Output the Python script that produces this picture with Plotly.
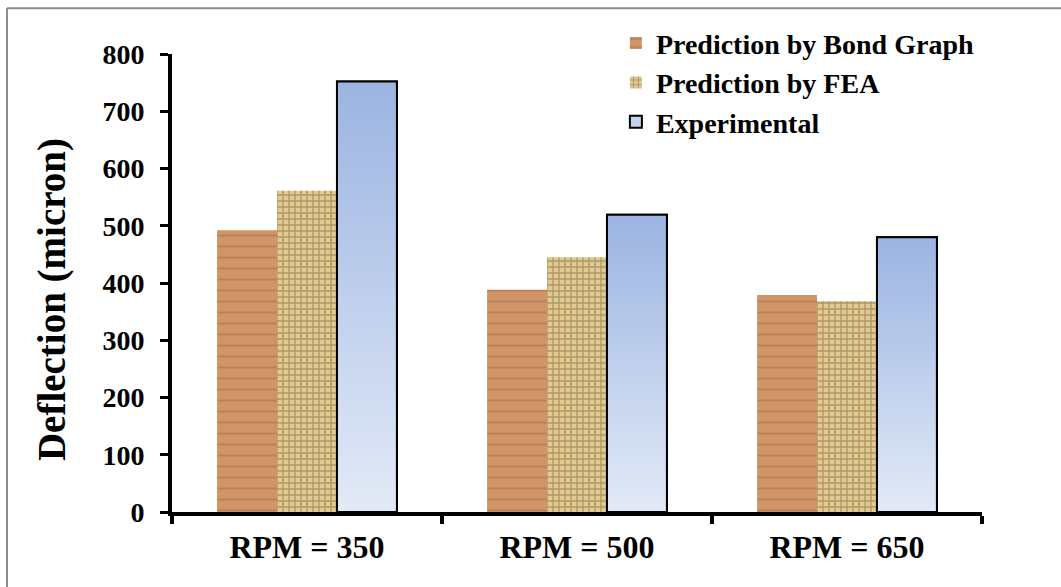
import plotly.graph_objects as go

# Deflection measured / predicted at three spindle speeds
categories = ["RPM = 350", "RPM = 500", "RPM = 650"]
series_names = ["Prediction by Bond Graph", "Prediction by FEA", "Experimental"]
bond_graph = [492, 388, 379]
fea = [561, 445, 368]
experimental = [752, 519, 480]
y_ticks = [0, 100, 200, 300, 400, 500, 600, 700, 800]
y_title = "Deflection (micron)"

BAR_W = 0.222
FONT = "Times New Roman, Liberation Serif, serif"

x_idx = list(range(len(categories)))
offsets = [-BAR_W, 0.0, BAR_W]

fig = go.Figure()

# wood-grain look for the bond graph bars
fig.add_trace(go.Bar(
    x=[i + offsets[0] for i in x_idx], y=bond_graph, width=BAR_W,
    name=series_names[0],
    marker=dict(color="#cd9466", line=dict(width=0),
                pattern=dict(shape="-", fillmode="overlay", bgcolor="#cf9568",
                             fgcolor="#a9693f", size=11, solidity=0.18)),
))

# woven burlap look for the FEA bars
fig.add_trace(go.Bar(
    x=[i + offsets[1] for i in x_idx], y=fea, width=BAR_W,
    name=series_names[1],
    marker=dict(color="#dcc68e", line=dict(width=0),
                pattern=dict(shape="+", fillmode="overlay", bgcolor="#e0ca92",
                             fgcolor="#7f6436", size=6, solidity=0.4)),
))

# experimental bars (legend entry + base), gradient overlay drawn below
fig.add_trace(go.Bar(
    x=[i + offsets[2] for i in x_idx], y=experimental, width=BAR_W,
    name=series_names[2],
    marker=dict(color="#c3d3ef", line=dict(color="black", width=2)),
))

for i, v in zip(x_idx, experimental):
    cx = i + offsets[2]
    x0, x1 = cx - BAR_W / 2, cx + BAR_W / 2
    fig.add_trace(go.Scatter(
        x=[x0, x0, x1, x1, x0], y=[0, v, v, 0, 0],
        mode="lines", fill="toself",
        fillgradient=dict(type="vertical",
                          colorscale=[[0, "#e3eaf7"], [1, "#9bb4e2"]]),
        line=dict(color="black", width=2),
        showlegend=False, hoverinfo="skip",
    ))

fig.update_layout(
    width=1061, height=587,
    margin=dict(l=172, r=79, t=54, b=75),
    paper_bgcolor="white", plot_bgcolor="white",
    font=dict(family=FONT, color="black", size=28, weight="bold"),
    barmode="overlay",
    showlegend=True,
    legend=dict(x=0.548, y=1.078, xanchor="left", yanchor="top",
                bgcolor="rgba(0,0,0,0)", tracegroupgap=0,
                font=dict(family=FONT, size=28, weight="bold")),
    xaxis=dict(
        range=[-0.5, 2.5], tickmode="array", tickvals=x_idx, ticktext=categories,
        ticks="", showgrid=False, zeroline=False,
        showline=True, linecolor="black", linewidth=4,
        tickfont=dict(family=FONT, size=32, weight="bold"),
        ticklabelstandoff=4,
        minor=dict(tickmode="array", tickvals=[-0.5, 0.5, 1.5, 2.5],
                   ticks="outside", ticklen=8, tickwidth=4, tickcolor="black",
                   showgrid=False),
    ),
    yaxis=dict(
        range=[0, 800], tickmode="array", tickvals=y_ticks,
        ticks="outside", ticklen=8, tickwidth=3, tickcolor="black",
        showgrid=False, zeroline=False,
        showline=True, linecolor="black", linewidth=4,
        tickfont=dict(family=FONT, size=28, weight="bold"),
        ticklabelstandoff=10,
    ),
    annotations=[
        dict(text=y_title, xref="paper", yref="paper", x=-0.148, y=0.463,
             xanchor="center", yanchor="middle", textangle=-90,
             showarrow=False,
             font=dict(family=FONT, size=39, weight="bold", color="black")),
    ],
    shapes=[
        dict(type="line", xref="paper", yref="paper",
             x0=-0.2037, x1=1.2, y0=1.1, y1=1.1,
             line=dict(color="#8c8c8c", width=2)),
        dict(type="line", xref="paper", yref="paper",
             x0=-0.2037, x1=-0.2037, y0=1.1, y1=-0.3,
             line=dict(color="#8c8c8c", width=2)),
    ],
)

fig.write_html("out.html")
